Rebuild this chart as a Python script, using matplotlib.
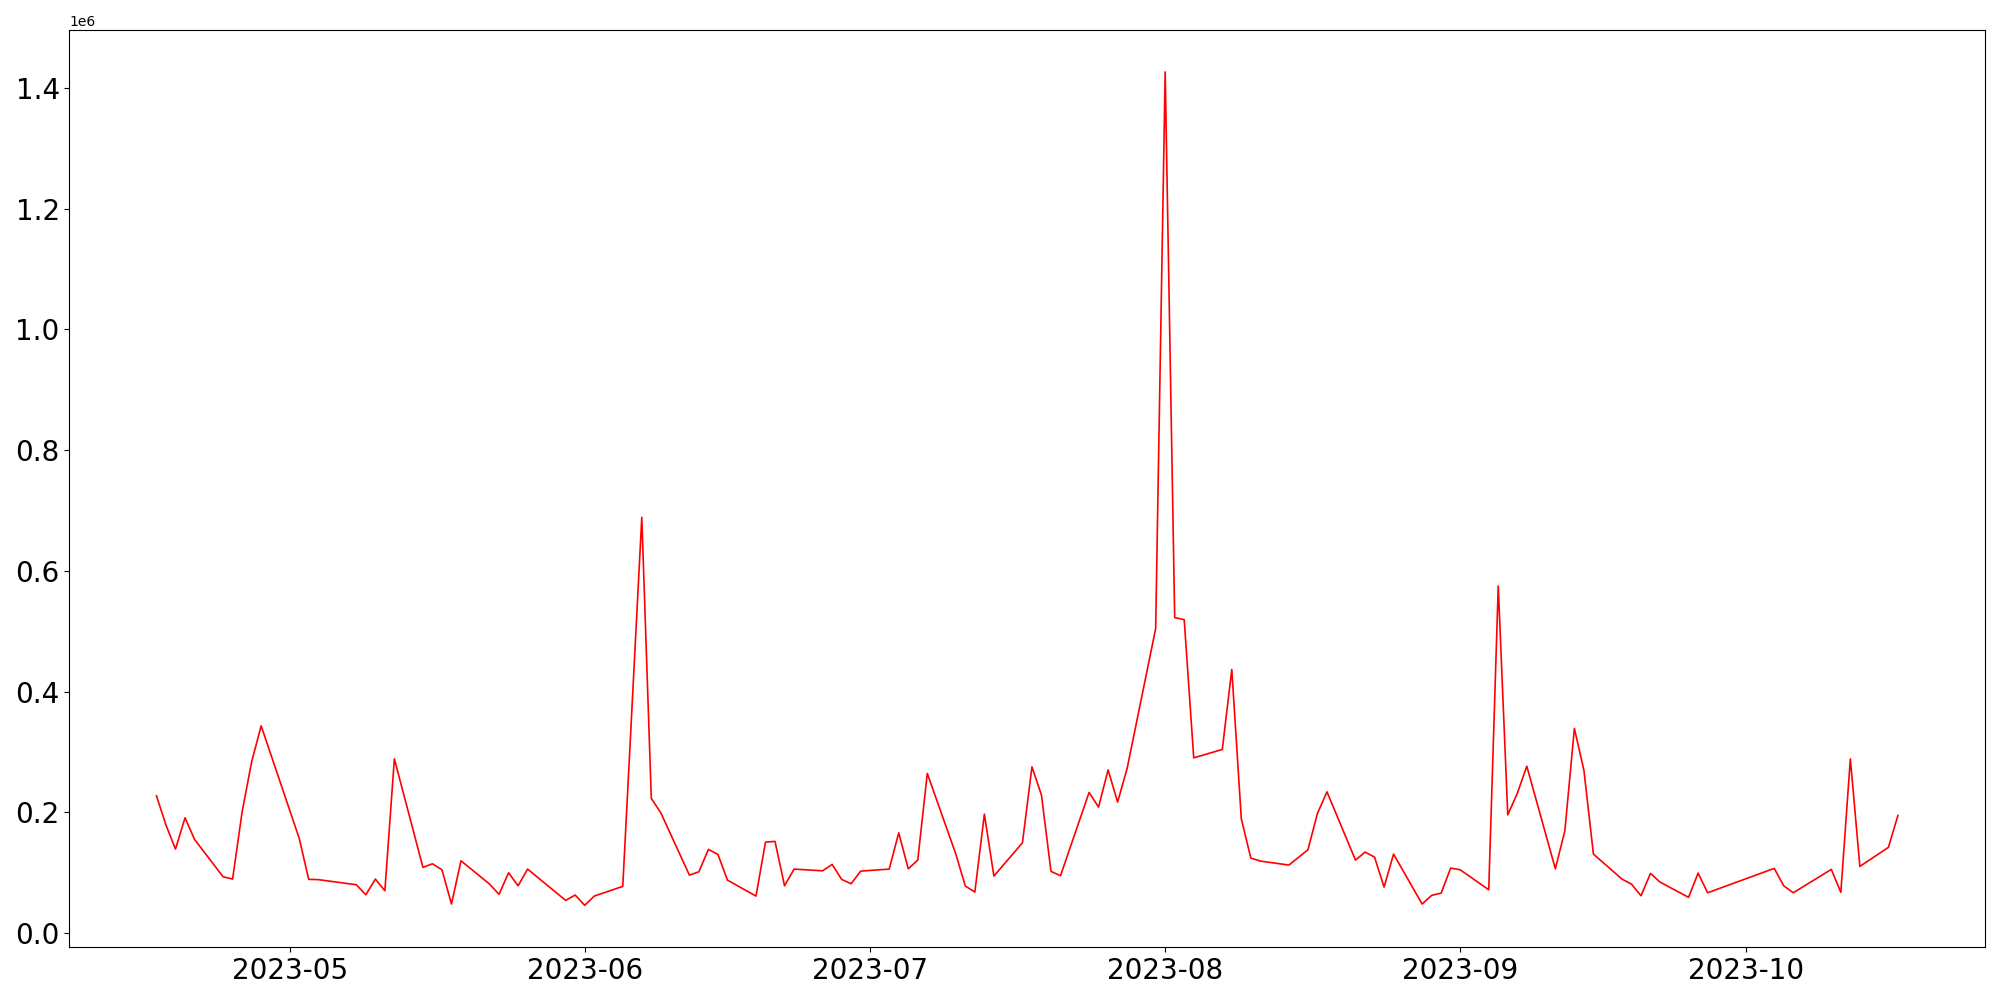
import matplotlib
matplotlib.use("Agg")
import matplotlib.pyplot as plt
import pandas as pd

dates = [
    "2023-04-17", "2023-04-18", "2023-04-19", "2023-04-20", "2023-04-21",
    "2023-04-24", "2023-04-25", "2023-04-26", "2023-04-27", "2023-04-28",
    "2023-05-02", "2023-05-03", "2023-05-04",
    "2023-05-08", "2023-05-09", "2023-05-10", "2023-05-11", "2023-05-12",
    "2023-05-15", "2023-05-16", "2023-05-17", "2023-05-18", "2023-05-19",
    "2023-05-22", "2023-05-23", "2023-05-24", "2023-05-25", "2023-05-26",
    "2023-05-30", "2023-05-31", "2023-06-01", "2023-06-02",
    "2023-06-05", "2023-06-07", "2023-06-08", "2023-06-09",
    "2023-06-12", "2023-06-13", "2023-06-14", "2023-06-15", "2023-06-16",
    "2023-06-19", "2023-06-20", "2023-06-21", "2023-06-22", "2023-06-23",
    "2023-06-26", "2023-06-27", "2023-06-28", "2023-06-29", "2023-06-30",
    "2023-07-03", "2023-07-04", "2023-07-05", "2023-07-06", "2023-07-07",
    "2023-07-10", "2023-07-11", "2023-07-12", "2023-07-13", "2023-07-14",
    "2023-07-17", "2023-07-18", "2023-07-19", "2023-07-20", "2023-07-21",
    "2023-07-24", "2023-07-25", "2023-07-26", "2023-07-27", "2023-07-28",
    "2023-07-31", "2023-08-01", "2023-08-02", "2023-08-03", "2023-08-04",
    "2023-08-07", "2023-08-08", "2023-08-09", "2023-08-10", "2023-08-11",
    "2023-08-14", "2023-08-16", "2023-08-17", "2023-08-18",
    "2023-08-21", "2023-08-22", "2023-08-23", "2023-08-24", "2023-08-25",
    "2023-08-28", "2023-08-29", "2023-08-30", "2023-08-31", "2023-09-01",
    "2023-09-04", "2023-09-05", "2023-09-06", "2023-09-07", "2023-09-08",
    "2023-09-11", "2023-09-12", "2023-09-13", "2023-09-14", "2023-09-15",
    "2023-09-18", "2023-09-19", "2023-09-20", "2023-09-21", "2023-09-22",
    "2023-09-25", "2023-09-26", "2023-09-27",
    "2023-10-04", "2023-10-05", "2023-10-06",
    "2023-10-10", "2023-10-11", "2023-10-12", "2023-10-13",
    "2023-10-16", "2023-10-17",
]

values = [
    227300, 178800, 139000, 190900, 155100,
    93200, 89400, 200800, 283600, 343200,
    156800, 88900, 88500,
    80000, 63400, 89400, 70000, 288500,
    108800, 114700, 104800, 48000, 119700,
    81100, 64100, 99800, 78300, 105900,
    54100, 62900, 45900, 61200,
    77300, 688600, 223000, 199100,
    96000, 101500, 138600, 130300, 87700,
    61200, 150600, 151800, 78300, 105900,
    103100, 113700, 88900, 81600, 102600,
    105900, 166000, 106400, 120800, 264400,
    130800, 77800, 67900, 197000, 94400,
    149500, 275300, 228400, 102100, 94900,
    232900, 208600, 270300, 216900, 272600,
    504400, 1426400, 522600, 519000, 290200,
    304100, 436500, 189200, 124200, 119200,
    112600, 137900, 198100, 233900,
    120800, 134100, 125800, 76100, 130800,
    48000, 62400, 66200, 107600, 104800,
    71700, 575000, 195800, 231300, 276400,
    106400, 169300, 338900, 269800, 130800,
    89400, 81100, 61700, 98800, 84400,
    59100, 99300, 66700,
    107100, 78300, 66700,
    105400, 67400, 288500, 110400,
    141900, 194800,
]

x = pd.to_datetime(dates)

fig, ax = plt.subplots(figsize=(20, 10), dpi=100)
ax.plot(x, values, color="red", linewidth=1.2)
ax.tick_params(axis="both", labelsize=20)
fig.subplots_adjust(left=0.0347, right=0.9925, top=0.9697, bottom=0.053)
fig.savefig("out.png", dpi=100)
